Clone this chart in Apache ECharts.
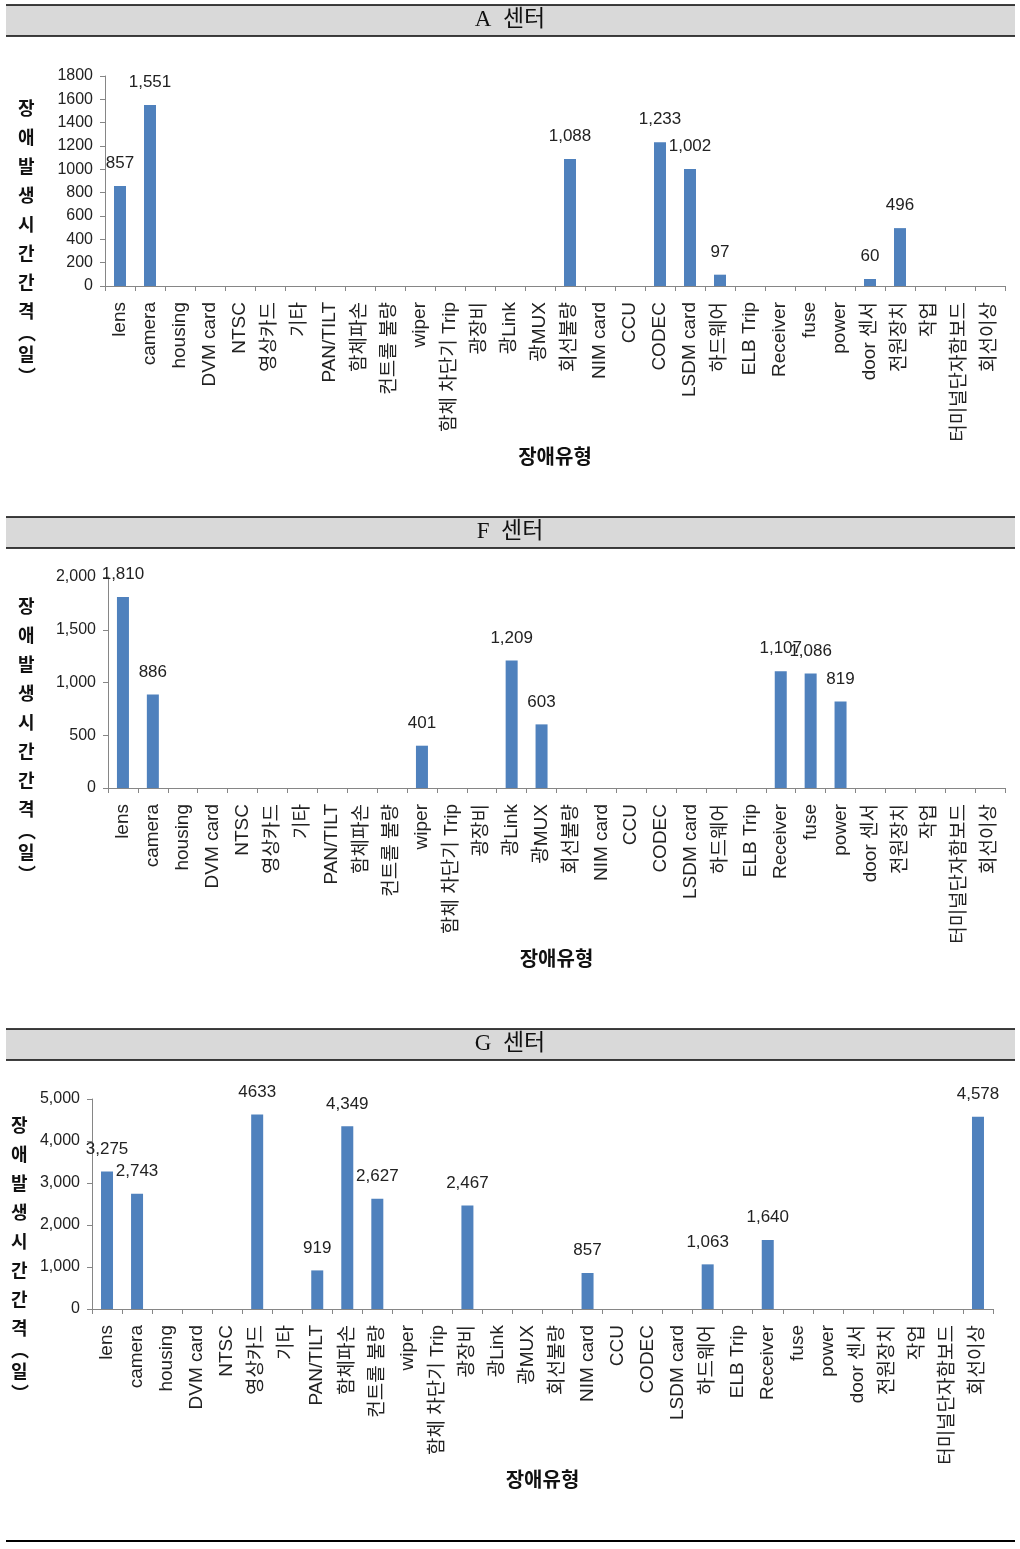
<!DOCTYPE html>
<html>
<head>
<meta charset="utf-8">
<script src="https://cdn.jsdelivr.net/npm/echarts@6/dist/echarts.min.js"></script>
<style>
html,body{margin:0;padding:0;background:#fff;}
#c{width:1020px;height:1549px;}
</style>
</head>
<body>
<div id="c"></div>
<script>
const categories = ['lens','camera','housing','DVM card','NTSC','영상카드','기타','PAN/TILT','함체파손','컨트롤 불량','wiper','함체 차단기 Trip','광장비','광Link','광MUX','회선불량','NIM card','CCU','CODEC','LSDM card','하드웨어','ELB Trip','Receiver','fuse','power','door 센서','전원장치','작업','터미널단자함보드','회선이상'];

const centerA = [857,1551,null,null,null,null,null,null,null,null,null,null,null,null,null,1088,null,null,1233,1002,97,null,null,null,null,60,496,null,null,null];
const centerF = [1810,886,null,null,null,null,null,null,null,null,401,null,null,1209,603,null,null,null,null,null,null,null,1107,1086,819,null,null,null,null,null];
const centerG = [3275,2743,null,null,null,4633,null,919,4349,2627,null,null,2467,null,null,null,857,null,null,null,1063,null,1640,null,null,null,null,null,null,4578];

const panelTitles = ['A  센터','F  센터','G  센터'];
const yAxisTitle = '장애발생시간간격';
const yAxisUnit = '일';
const xAxisTitle = '장애유형';
const yMaxes = [1800, 2000, 5000];
const yIntervals = [200, 500, 1000];
const gNoCommaLabel = ['영상카드'];

const FONT = "'Liberation Sans','Noto Sans CJK KR',sans-serif";
const KFONT = "'Noto Sans CJK KR','Liberation Sans',sans-serif";
const BAR = '#4F81BD';
const AXIS = '#868686';

const fmtComma = v => Number(v).toLocaleString('en-US');

const grids = [
  {left:105, top:76, width:900, height:210},
  {left:108, top:577, width:897, height:211},
  {left:92, top:1099, width:901, height:210}
];
const headerTops = [5, 517, 1029];
const yNameTops = [94, 592, 1111];
const yNameLefts = [18, 18, 11];

const chart = echarts.init(document.getElementById('c'), null, {renderer:'canvas'});

const graphics = [];
headerTops.forEach(t => {
  graphics.push({type:'rect', shape:{x:6,y:t,width:1009,height:31}, style:{fill:'#d9d9d9'}, silent:true});
  graphics.push({type:'line', shape:{x1:6,y1:t,x2:1015,y2:t}, style:{stroke:'#000',lineWidth:1.5}, silent:true});
  graphics.push({type:'line', shape:{x1:6,y1:t+31,x2:1015,y2:t+31}, style:{stroke:'#000',lineWidth:1.5}, silent:true});
});
graphics.push({type:'line', shape:{x1:6,y1:1541,x2:1015,y2:1541}, style:{stroke:'#000',lineWidth:2}, silent:true});

const yNameText = yAxisTitle.split('').join('\n') + '\n{p|︵}\n' + yAxisUnit + '\n{p|︶}';

const titles = [];
panelTitles.forEach((t,i) => {
  titles.push({text:t, left:'center', top:headerTops[i]+3, padding:0,
    textStyle:{fontFamily:"'Liberation Serif','Noto Sans CJK KR',serif", fontSize:23, fontWeight:'normal', color:'#111'}});
  titles.push({text:yNameText, left:yNameLefts[i], top:yNameTops[i], padding:0,
    textStyle:{fontFamily:KFONT, fontSize:18, fontWeight:'bold', color:'#111', lineHeight:29,
      rich:{p:{fontFamily:KFONT, fontSize:18, fontWeight:'bold', color:'#111', lineHeight:14}}}});
});

const dataSets = [centerA, centerF, centerG];
const xAxes = [], yAxes = [], series = [];
dataSets.forEach((d,i) => {
  xAxes.push({
    type:'category', gridIndex:i, data:categories,
    name:xAxisTitle, nameLocation:'middle', nameGap:160,
    nameTextStyle:{fontFamily:KFONT, fontSize:20, fontWeight:'bold', color:'#111'},
    axisLine:{lineStyle:{color:AXIS}},
    axisTick:{show:true, length:5, lineStyle:{color:AXIS}},
    axisLabel:{rotate:90, interval:0, margin:16, fontFamily:FONT, fontSize:19, color:'#222'}
  });
  yAxes.push({
    type:'value', gridIndex:i, min:0, max:yMaxes[i], interval:yIntervals[i],
    splitLine:{show:false},
    axisLine:{show:true, lineStyle:{color:AXIS}},
    axisTick:{show:true, length:5, lineStyle:{color:AXIS}},
    axisLabel:{margin:12, fontFamily:FONT, fontSize:16, color:'#222',
      formatter: v => i === 0 ? String(v) : fmtComma(v)}
  });
  series.push({
    type:'bar', xAxisIndex:i, yAxisIndex:i, data:d, barWidth:12,
    itemStyle:{color:BAR},
    label:{show:true, position:'top', distance:14, fontFamily:FONT, fontSize:17, color:'#222',
      formatter: p => {
        if (p.value == null) return '';
        if (i === 2 && gNoCommaLabel.includes(p.name)) return String(p.value);
        return fmtComma(p.value);
      }}
  });
});

chart.setOption({
  animation:false,
  backgroundColor:'#fff',
  title:titles,
  graphic:graphics,
  grid:grids,
  xAxis:xAxes,
  yAxis:yAxes,
  series:series
});
</script>
</body>
</html>
